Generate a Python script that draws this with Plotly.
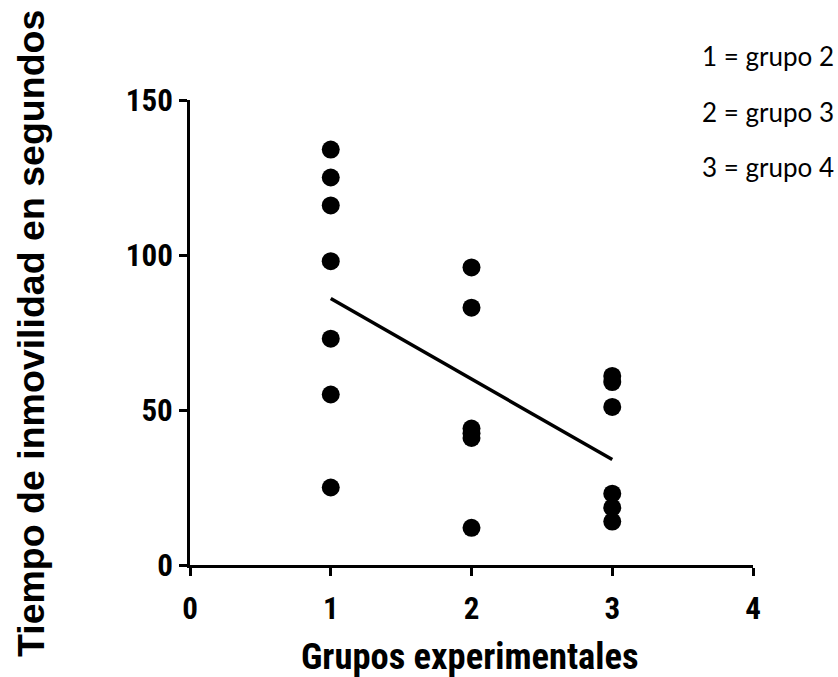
import plotly.graph_objects as go

# Data
group1_y = [134, 125, 116, 98, 73, 55, 25]
group2_y = [96, 83, 44, 42.5, 41, 12]
group3_y = [61, 59, 51, 23, 18.5, 14]
groups_x = [1, 2, 3]
fit_x = [1, 3]
fit_y = [86, 34]
legend_lines = ["1 = grupo 2", "2 = grupo 3", "3 = grupo 4"]
x_ticks = [0, 1, 2, 3, 4]
y_ticks = [0, 50, 100, 150]

xs = [groups_x[0]] * len(group1_y) + [groups_x[1]] * len(group2_y) + [groups_x[2]] * len(group3_y)
ys = group1_y + group2_y + group3_y

narrow = "Liberation Sans Narrow, Roboto Condensed, DejaVu Sans Condensed, Roboto, sans-serif"

fig = go.Figure()
fig.add_trace(go.Scatter(x=fit_x, y=fit_y, mode="lines",
                         line=dict(color="black", width=3.5), showlegend=False,
                         cliponaxis=False))
fig.add_trace(go.Scatter(x=xs, y=ys, mode="markers",
                         marker=dict(color="black", size=18, symbol="circle",
                                     line=dict(width=0)),
                         showlegend=False, cliponaxis=False))

L, T, Wp, Hp = 190, 100, 563, 465
fig.update_layout(
    width=838, height=677,
    margin=dict(l=L, r=838 - L - Wp, t=T, b=677 - T - Hp),
    plot_bgcolor="white", paper_bgcolor="white",
    xaxis=dict(range=[0, 4], tickvals=x_ticks, ticktext=[f"<b>{v}</b>" for v in x_ticks],
               showgrid=False, zeroline=False,
               showline=True, linecolor="black", linewidth=3,
               ticks="outside", ticklen=8, tickwidth=3, tickcolor="black",
               tickfont=dict(family=narrow, size=31, color="black"),
               ticklabelstandoff=6),
    yaxis=dict(range=[0, 150], tickvals=y_ticks, ticktext=[f"<b>{v}</b>" for v in y_ticks],
               showgrid=False, zeroline=False,
               showline=True, linecolor="black", linewidth=3,
               ticks="outside", ticklen=8, tickwidth=3, tickcolor="black",
               tickfont=dict(family=narrow, size=31, color="black"),
               ticklabelstandoff=0),
)

def px_x(p):
    return (p - L) / Wp

def px_y(p):
    return (T + Hp - p) / Hp

annots = [
    dict(text="<b>Grupos experimentales</b>", x=px_x(470), y=px_y(656),
         xref="paper", yref="paper", xanchor="center", yanchor="middle",
         showarrow=False, font=dict(family=narrow, size=36.5, color="black")),
    dict(text="<b>Tiempo de inmovilidad en segundos</b>", x=px_x(31), y=px_y(334),
         xref="paper", yref="paper", xanchor="center", yanchor="middle",
         textangle=-90, showarrow=False,
         font=dict(family="Liberation Sans, Arial, sans-serif", size=37.5, color="black")),
]
for i, (txt, yc) in enumerate(zip(legend_lines, [56, 112, 167])):
    annots.append(dict(text=txt, x=px_x(700), y=px_y(yc), xref="paper", yref="paper",
                       xanchor="left", yanchor="middle", showarrow=False,
                       font=dict(family="Lato, Noto Sans, sans-serif", size=26, color="black")))
fig.update_layout(annotations=annots)

fig.write_html("out.html")
